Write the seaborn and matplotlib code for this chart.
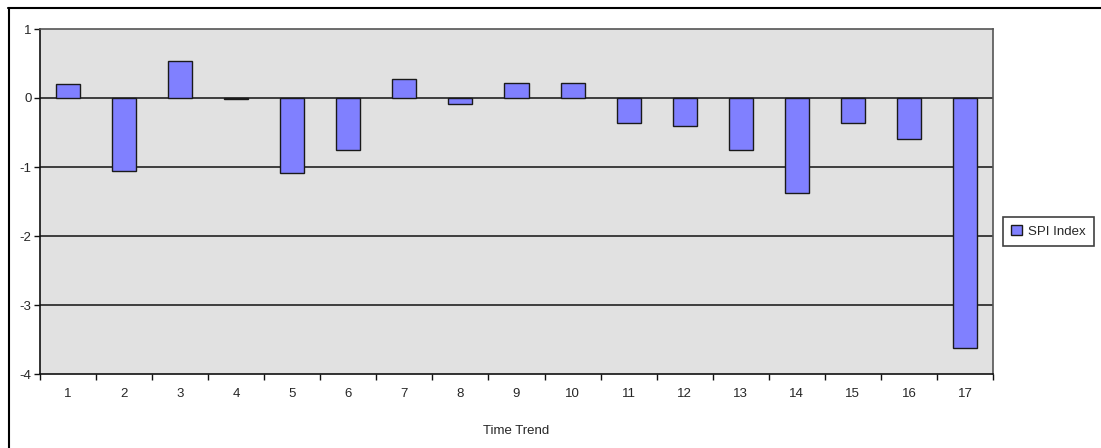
import matplotlib
matplotlib.use("Agg")
import matplotlib.pyplot as plt
import seaborn as sns
import pandas as pd
from matplotlib.lines import Line2D
from matplotlib.patches import Patch

categories = [str(i) for i in range(1, 18)]
spi_values = [0.20, -1.06, 0.53, -0.02, -1.08, -0.75, 0.27, -0.08, 0.22, 0.22,
              -0.36, -0.40, -0.75, -1.38, -0.36, -0.59, -3.62]
series_name = "SPI Index"
y_ticks = [1, 0, -1, -2, -3, -4]

sns.set_theme(style="white")
plt.rcParams['font.family'] = ['Liberation Sans', 'DejaVu Sans']

df = pd.DataFrame({"Time Trend": categories, "SPI": spi_values})

W, H = 1101, 448
fig = plt.figure(figsize=(W / 100, H / 100), dpi=100)
fig.patch.set_facecolor("white")
ax = fig.add_axes([40 / W, 1 - 374 / H, (993 - 40) / W, (374 - 29) / H])
ax.set_facecolor("#E1E1E1")

sns.barplot(data=df, x="Time Trend", y="SPI", order=categories, color="#8080FF",
            saturation=1, width=0.43, edgecolor="#1a1a1a", linewidth=1.0, ax=ax, zorder=3)

ax.set_xlim(-0.5, len(categories) - 0.5)
ax.set_ylim(-4, 1)
ax.set_yticks(y_ticks)
ax.set_yticklabels([str(t) for t in y_ticks], fontsize=9.5)
for t in y_ticks[1:-1]:
    ax.axhline(t, color="#111111", lw=1.1, zorder=2)

ax.set_xticks(range(len(categories)))
ax.set_xticklabels(categories, fontsize=9.5)
ax.set_xticks([i - 0.5 for i in range(len(categories) + 1)], minor=True)
ax.tick_params(axis="x", which="major", length=0, pad=10, bottom=True)
ax.tick_params(axis="x", which="minor", length=4, width=1, color="#111111",
               direction="out", bottom=True)
ax.tick_params(axis="y", length=4, width=1, color="#111111", direction="out", pad=2, left=True)
ax.set_xlabel("Time Trend", fontsize=9.5, labelpad=18)
ax.set_ylabel("")

for s in ["left", "bottom"]:
    ax.spines[s].set_color("#111111")
    ax.spines[s].set_linewidth(1.2)
for s in ["top", "right"]:
    ax.spines[s].set_color("#555555")
    ax.spines[s].set_linewidth(1.2)
    ax.spines[s].set_visible(True)

handles = [Patch(facecolor="#8080FF", edgecolor="#1a1a1a", label=series_name)]
leg = fig.legend(handles=handles, loc="center", bbox_to_anchor=(1048.5 / W, 1 - 231.5 / H),
                 fontsize=9.5, frameon=True, fancybox=False, handlelength=0.8,
                 handleheight=0.8, handletextpad=0.5, borderpad=0.65)
leg.get_frame().set_edgecolor("#111111")
leg.get_frame().set_linewidth(1.2)

# outer chart border
fig.add_artist(Line2D([8 / W, 1.0], [1 - 8 / H, 1 - 8 / H], transform=fig.transFigure,
                      color="black", lw=1.5))
fig.add_artist(Line2D([9 / W, 9 / W], [0, 1 - 8 / H], transform=fig.transFigure,
                      color="black", lw=1.5))

fig.savefig("out.png", dpi=100)
